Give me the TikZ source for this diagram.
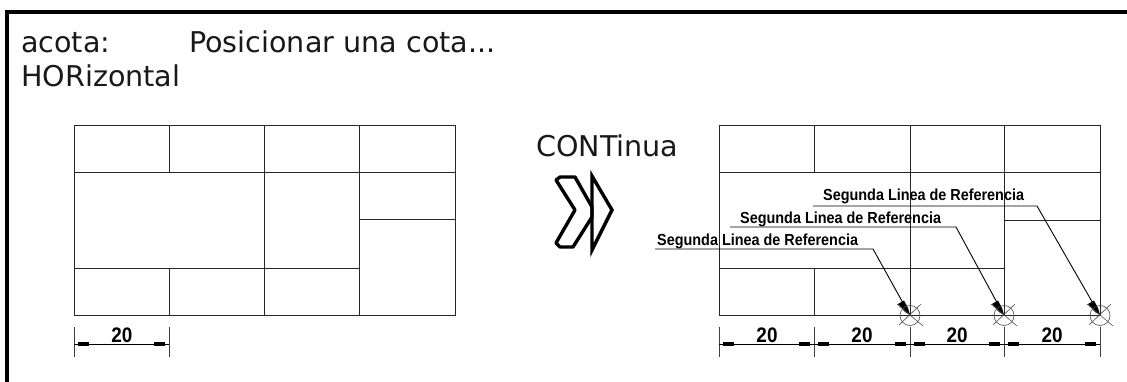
\documentclass[tikz,border=0pt]{standalone}
\usepackage{fontspec}
\setmainfont{Liberation Sans}
\newfontfamily\dejavu{DejaVu Sans}
\newfontfamily\cadfont[FakeStretch=0.9]{Liberation Sans}
\begin{document}
\begin{tikzpicture}[x=1pt,y=-1pt,
  grid/.style={line width=0.9pt,black!85},
  frame/.style={line width=3.6pt,black},
  lead/.style={line width=0.9pt,black},
  ext/.style={line width=1pt,black!75},
  dimen/.style={line width=1pt,black},
  tick/.style={line width=4.4pt,black},
  cross/.style={line width=0.6pt,black!70},
  label/.style={inner sep=0pt,font=\dejavu\fontsize{28.6}{28.6}\selectfont,anchor=base west,text=black!90},
  num/.style={inner sep=0pt,font=\cadfont\bfseries\fontsize{21}{21}\selectfont,anchor=base},
  refl/.style={inner sep=0pt,font=\cadfont\bfseries\fontsize{16}{16}\selectfont,anchor=base west}]
\useasboundingbox (0,0) rectangle (1127,382);
\fill[white] (0,0) rectangle (1127,382);
% frame
\coordinate (fa) at (7,382); \coordinate (fb) at (7,12); \coordinate (fc) at (1127,12);
\draw[frame] (fa) -- (fb) -- (fc);
% texts
\node[label] (t1) at (21,53) {acota:};
\node[label] (t2) at (189,53) {Posicionar una cota...};
\node[label] (t3) at (21,87) {HORizontal};
\node[label] (t4) at (536,157) {CONTinua};
% left plan
\draw[grid] (74,125) rectangle (455,315);
\draw[grid] (74,172) -- (455,172) (74,268) -- (359,268) (359,219) -- (455,219);
\draw[grid] (169,125) -- (169,172) (169,268) -- (169,315) (264,125) -- (264,315) (359,125) -- (359,315);
% left dimension
\draw[ext] (74,327) -- (74,357) (169,327) -- (169,357);
\draw[dimen] (74,344) -- (169,344);
\draw[tick] (78,344) -- (89,344) (154,344) -- (165,344);
\node[num] (d0) at (122,342) {20};
% right plan
\draw[grid] (719,125) rectangle (1100,315);
\draw[grid] (719,172) -- (1100,172) (719,268) -- (1004,268) (1004,220) -- (1100,220);
\draw[grid] (814,125) -- (814,172) (814,268) -- (814,315) (910,125) -- (910,315) (1004,125) -- (1004,315);
% right dimensions
\foreach \a/\b/\n in {719/814/1,814/910/2,910/1004/3,1004/1100/4}{
  \draw[ext] (\a,327) -- (\a,357);
  \draw[dimen] (\a,344) -- (\b,344);
  \draw[tick] (\a+4,344) -- (\a+15,344) (\b-15,344) -- (\b-4,344);
}
\draw[ext] (1100,327) -- (1100,357);
\node[num] (d1) at (767,342) {20};
\node[num] (d2) at (862,342) {20};
\node[num] (d3) at (957,342) {20};
\node[num] (d4) at (1052,342) {20};
% reference leaders
\foreach \s/\k/\e/\y in {655/873/910/249,730/956/1004/227,813/1037/1100/206}{
  \coordinate (p) at (\e,315.5);
  \draw[lead] (\s,\y) -- (\k,\y) -- (p);
  \fill[black] (\e-12,304) -- (\e-6,300.5) -- (\e-2,308) -- (\e,315) -- (\e-5,312) -- cycle;
  \draw[cross] (p) circle (10);
  \draw[cross] (\e-11,325) -- (\e+11,304) (\e-13,304) -- (\e+13,326);
}
\node[refl] (r1) at (657,245) {Segunda Linea de Referencia};
\node[refl] (r2) at (740,223) {Segunda Linea de Referencia};
\node[refl] (r3) at (823,201) {Segunda Linea de Referencia};
% chevrons
\draw[line width=3.4pt,line join=round] (556,180) -- (560,177) -- (575,177) -- (592,207) -- (592,217) -- (573,247) -- (560,247) -- (556,243) -- (575,210) -- cycle;
\draw[line width=3.4pt,line join=miter,miter limit=10] (592,176) -- (612,210) -- (592,250) -- cycle;
\end{tikzpicture}
\end{document}
